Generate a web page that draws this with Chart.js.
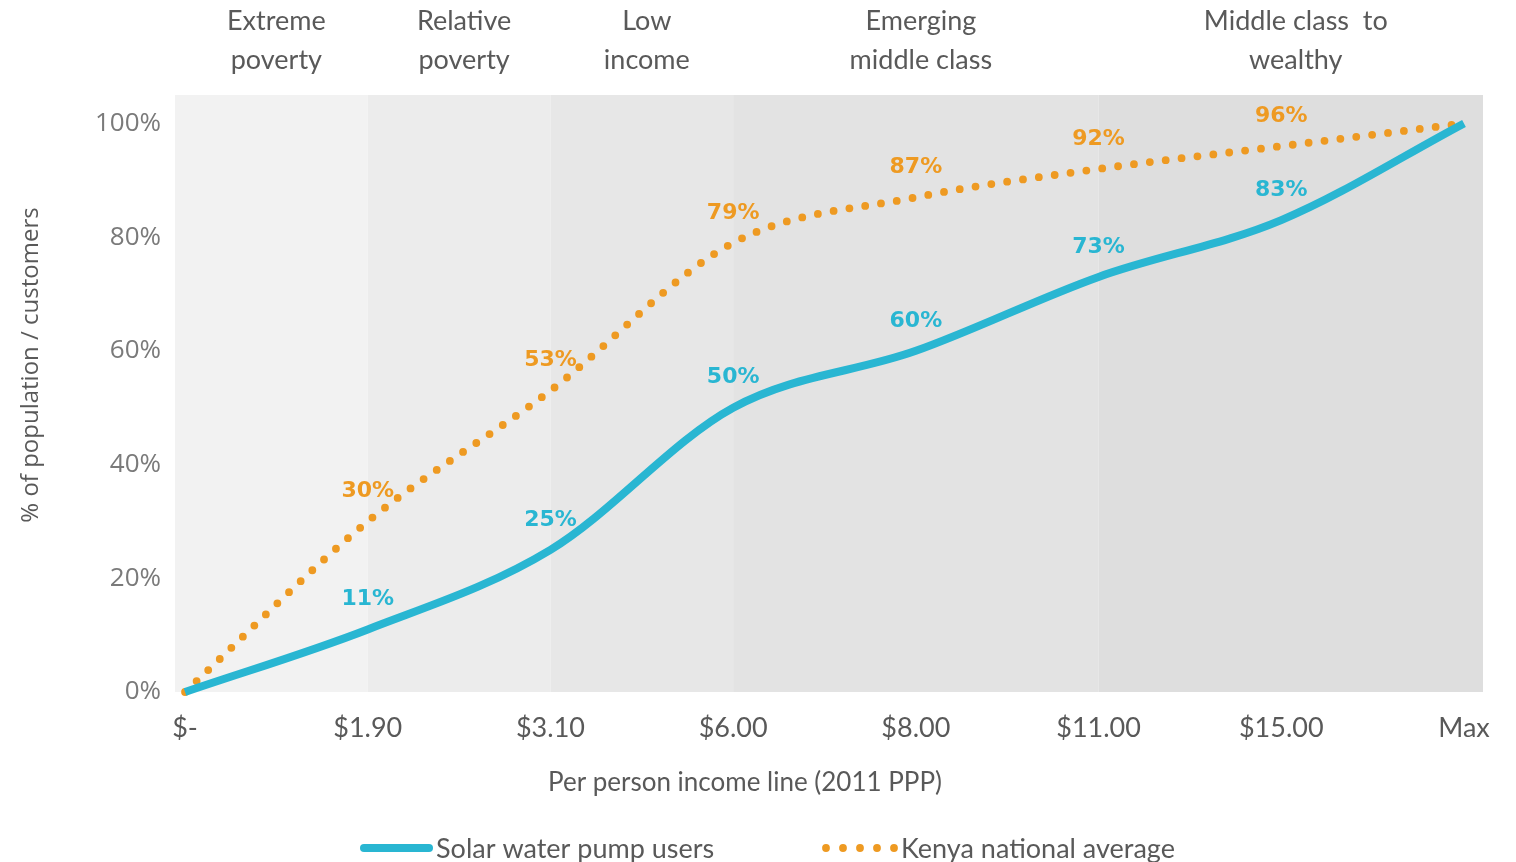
<!DOCTYPE html>
<html>
<head>
<meta charset="utf-8">
<script src="https://cdn.jsdelivr.net/npm/chart.js@4"></script>
<style>
  body { margin: 0; background: #fff; }
  canvas { display: block; }
</style>
</head>
<body>
<canvas id="chart" width="1516" height="862"></canvas>
<script>
// data
const xLabels = ['$-', '$1.90', '$3.10', '$6.00', '$8.00', '$11.00', '$15.00', 'Max'];
const solarUsers = [0, 11, 25, 50, 60, 73, 83, 100];
const kenyaAverage = [0, 30, 53, 79, 87, 92, 96, 100];
const yTicks = [0, 20, 40, 60, 80, 100];
const bandNames = [['Extreme', 'poverty'], ['Relative', 'poverty'], ['Low', 'income'], ['Emerging', 'middle class'], ['Middle class  to', 'wealthy']];
const bandEdges = [1, 2, 3, 5]; // category index where each income band ends

const bandColors = ['#f2f2f2', '#ececec', '#e7e7e7', '#e3e3e3', '#dedede'];
const BLUE = '#29b6d2';
const ORANGE = '#ee9a22';
const TEXT = '#595959';

// shaded income bands + labels above them
const bandsPlugin = {
    id: 'bands',
    beforeDatasetsDraw(chart) {
        const { ctx, chartArea: a, scales: { x } } = chart;
        const edges = [x.min, ...bandEdges, x.max];
        ctx.save();
        for (let i = 0; i < bandColors.length; i++) {
            const x0 = x.getPixelForValue(edges[i]);
            const x1 = x.getPixelForValue(edges[i + 1]);
            ctx.fillStyle = bandColors[i];
            ctx.fillRect(x0, a.top, x1 - x0, a.bottom - a.top);
        }
        ctx.restore();
    },
    afterDraw(chart) {
        const { ctx, scales: { x } } = chart;
        const edges = [x.min, ...bandEdges, x.max];
        ctx.save();
        ctx.fillStyle = TEXT;
        ctx.font = '27px Lato';
        ctx.textAlign = 'center';
        ctx.textBaseline = 'middle';
        bandNames.forEach((lines, i) => {
            const cx = (x.getPixelForValue(edges[i]) + x.getPixelForValue(edges[i + 1])) / 2 + 5;
            ctx.fillText(lines[0], cx, 21);
            ctx.fillText(lines[1], cx, 60);
        });

        // axis titles
        ctx.font = '26px Lato';
        ctx.fillText('Per person income line (2011 PPP)', 745, 783);
        ctx.save();
        ctx.translate(31, 365);
        ctx.rotate(-Math.PI / 2);
        ctx.font = '24px "Open Sans"';
        ctx.fillText('% of population / customers', 0, 0);
        ctx.restore();

        // legend
        ctx.lineCap = 'round';
        ctx.strokeStyle = BLUE;
        ctx.lineWidth = 8;
        ctx.beginPath();
        ctx.moveTo(364, 848);
        ctx.lineTo(429, 848);
        ctx.stroke();
        ctx.fillStyle = ORANGE;
        for (let i = 0; i < 5; i++) {
            ctx.beginPath();
            ctx.arc(826 + i * 17, 848, 3.9, 0, Math.PI * 2);
            ctx.fill();
        }
        ctx.fillStyle = TEXT;
        ctx.font = '27px Lato';
        ctx.textAlign = 'left';
        ctx.fillText('Solar water pump users', 436, 849);
        ctx.fillText('Kenya national average', 901, 849);
        ctx.restore();
    }
};

// percent labels above the points
const valueLabels = {
    id: 'valueLabels',
    afterDatasetsDraw(chart) {
        const { ctx } = chart;
        ctx.save();
        ctx.font = 'bold 22px "DejaVu Sans"';
        ctx.textAlign = 'center';
        ctx.textBaseline = 'middle';
        chart.data.datasets.forEach((ds, di) => {
            const meta = chart.getDatasetMeta(di);
            ctx.fillStyle = ds.borderColor;
            for (let i = 1; i < ds.data.length - 1; i++) {
                const p = meta.data[i];
                ctx.fillText(ds.data[i].y + '%', p.x, p.y - 30);
            }
        });
        ctx.restore();
    }
};

new Chart(document.getElementById('chart'), {
    type: 'line',
    data: {
        datasets: [{
            label: 'Solar water pump users',
            data: solarUsers.map((v, i) => ({ x: i, y: v })),
            borderColor: BLUE,
            borderWidth: 8,
            cubicInterpolationMode: 'monotone',
            pointRadius: 0,
            clip: false
        }, {
            label: 'Kenya national average',
            data: kenyaAverage.map((v, i) => ({ x: i, y: v })),
            borderColor: ORANGE,
            borderWidth: 7.8,
            borderDash: [0, 16],
            borderCapStyle: 'round',
            cubicInterpolationMode: 'monotone',
            pointRadius: 0,
            clip: false
        }]
    },
    options: {
        responsive: false,
        animation: false,
        layout: { padding: { top: 95, right: 33, left: 0, bottom: 0 } },
        plugins: {
            legend: { display: false },
            tooltip: { enabled: false }
        },
        scales: {
            x: {
                type: 'linear',
                min: -0.055,
                max: 7.104,
                grid: { display: false },
                border: { display: false },
                afterBuildTicks: axis => { axis.ticks = xLabels.map((_, i) => ({ value: i })); },
                afterFit: axis => { axis.height = 170; },
                ticks: {
                    callback: v => xLabels[v],
                    autoSkip: false,
                    maxRotation: 0,
                    padding: 12,
                    color: TEXT,
                    font: { family: 'Lato', size: 27 }
                }
            },
            y: {
                min: 0,
                max: 105,
                grid: { display: false },
                border: { display: false },
                afterBuildTicks: axis => { axis.ticks = yTicks.map(v => ({ value: v })); },
                afterFit: axis => { axis.width = 175; },
                ticks: {
                    callback: v => v + '%',
                    padding: 6,
                    color: '#7a7a7a',
                    font: { family: 'Open Sans', size: 26 }
                }
            }
        }
    },
    plugins: [bandsPlugin, valueLabels]
});
</script>
</body>
</html>
